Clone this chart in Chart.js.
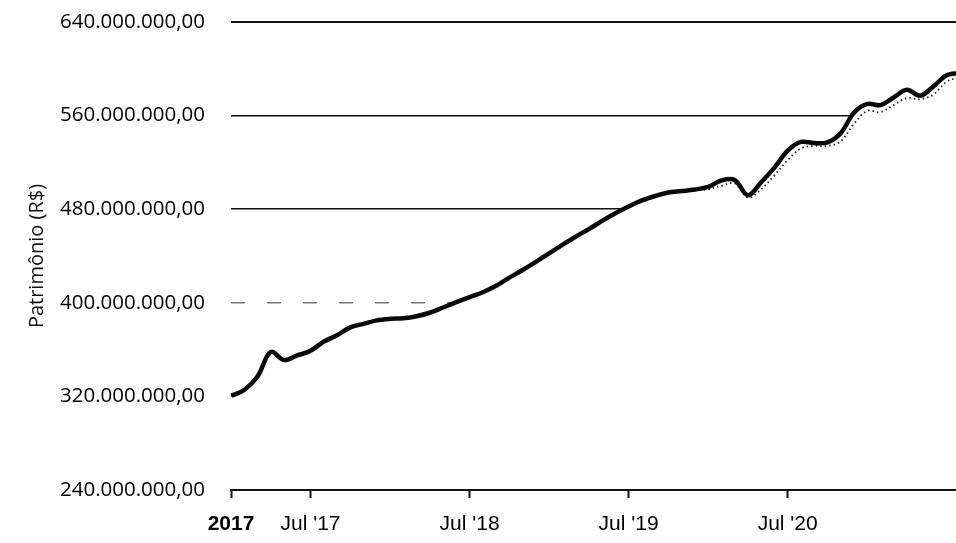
<!DOCTYPE html>
<html>
<head>
<meta charset="utf-8">
<script src="https://cdn.jsdelivr.net/npm/chart.js@4"></script>
<style>
  html, body { margin: 0; padding: 0; background: #fff; }
  canvas { display: block; }
</style>
</head>
<body>
<canvas id="chart" width="956" height="543"></canvas>
<script>
// patrimônio in millions of R$, one value per month from Jan 2017
const patrimonio = [
  320.5, 325.5, 337, 358, 351, 355, 359, 366.8, 372.3, 379, 382, 385,
  386.3, 386.8, 388.5, 391.5, 396, 400.5, 404.8, 409, 414.5, 421.5, 428, 435,
  442.3, 449.5, 456.5, 463, 470, 476.5, 482.3, 487.5, 491.3, 494.3, 495.5, 496.8,
  499, 504.5, 505, 492, 503, 515.5, 530, 537.5, 536.5, 537.2, 545, 562.5,
  570, 569, 575.5, 582, 577, 585, 594.5, 596.5
];
// dotted reference line, only visible from late 2019
const referencia = [
  null, null, null, null, null, null, null, null, null, null, null, null,
  null, null, null, null, null, null, null, null, null, null, null, null,
  null, null, null, null, null, null, null, null, null, null, null, 496,
  497, 500, 502, 490, 497, 509, 522, 532, 534, 534, 538, 553,
  564, 563, 569, 575, 574, 578, 589, 593
];
const xTickMonths = [0, 6, 18, 30, 42];
const xTickLabels = ["2017", "Jul '17", "Jul '18", "Jul '19", "Jul '20"];
const yTicks = [240, 320, 400, 480, 560, 640];

function formatBRL(mi) {
  const int = String(Math.round(mi * 1e6));
  return int.replace(/\B(?=(\d{3})+(?!\d))/g, ".") + ",00";
}

const toPoints = (arr) => arr.map((v, i) => ({ x: i, y: v }));

// faded grid lines in the lower half of the scan
function gridColor(ctx) {
  if (!ctx.tick) return "#111";
  if (ctx.tick.value === 400) return "#777";
  if (ctx.tick.value === 320) return "#e2e2e2";
  return "#111";
}

new Chart(document.getElementById("chart").getContext("2d"), {
  type: "line",
  data: {
    datasets: [
      {
        data: toPoints(patrimonio),
        borderColor: "#0a0a0a",
        borderWidth: 4.5,
        backgroundColor: "#fff",
        fill: { value: 242 },
        pointRadius: 0,
        tension: 0.35,
      },
      {
        data: toPoints(referencia),
        borderColor: "#222",
        borderWidth: 1.8,
        borderDash: [1.5, 3],
        fill: false,
        pointRadius: 0,
        tension: 0.35,
      },
    ],
  },
  options: {
    responsive: false,
    animation: false,
    layout: { padding: { top: 22, right: 0, bottom: 0, left: 0 } },
    plugins: {
      legend: { display: false },
      tooltip: { enabled: false },
      filler: { drawTime: "beforeDatasetsDraw" },
    },
    scales: {
      x: {
        type: "linear",
        min: 0,
        max: 54.7,
        afterBuildTicks: (scale) => {
          scale.ticks = xTickMonths.map((v) => ({ value: v }));
        },
        afterFit: (scale) => {
          scale.height = 53;
          scale.paddingLeft = 0;
          scale.paddingRight = 0;
        },
        ticks: {
          color: "#000",
          padding: 14,
          maxRotation: 0,
          autoSkip: false,
          font: (ctx) => ({
            family: "'Liberation Sans', Arial, sans-serif",
            size: 21,
            weight: ctx.index === 0 ? "bold" : "normal",
          }),
          callback: (v) => xTickLabels[xTickMonths.indexOf(v)],
        },
        grid: {
          drawOnChartArea: false,
          drawTicks: true,
          tickLength: 8,
          tickColor: "#111",
          tickWidth: 2,
        },
        border: { display: true, color: "#111", width: 2 },
      },
      y: {
        min: 240,
        max: 640,
        afterBuildTicks: (scale) => {
          scale.ticks = yTicks.map((v) => ({ value: v }));
        },
        afterFit: (scale) => {
          scale.width = 231;
          scale.paddingTop = 0;
          scale.paddingBottom = 0;
        },
        ticks: {
          color: "#000",
          padding: 26,
          font: { family: "'Open Sans', sans-serif", size: 20.5 },
          callback: (v) => formatBRL(v),
        },
        grid: {
          drawTicks: false,
          color: gridColor,
          lineWidth: (ctx) => (ctx.tick && ctx.tick.value === 640 ? 2 : 1.5),
        },
        border: {
          display: false,
          dash: (ctx) => (ctx.tick && ctx.tick.value === 400 ? [14, 22] : []),
        },
        title: {
          display: true,
          text: "Patrimônio (R$)",
          color: "#111",
          font: { family: "'Open Sans', sans-serif", size: 20 },
          padding: { top: 25, bottom: 0 },
        },
      },
    },
  },
});
</script>
</body>
</html>
